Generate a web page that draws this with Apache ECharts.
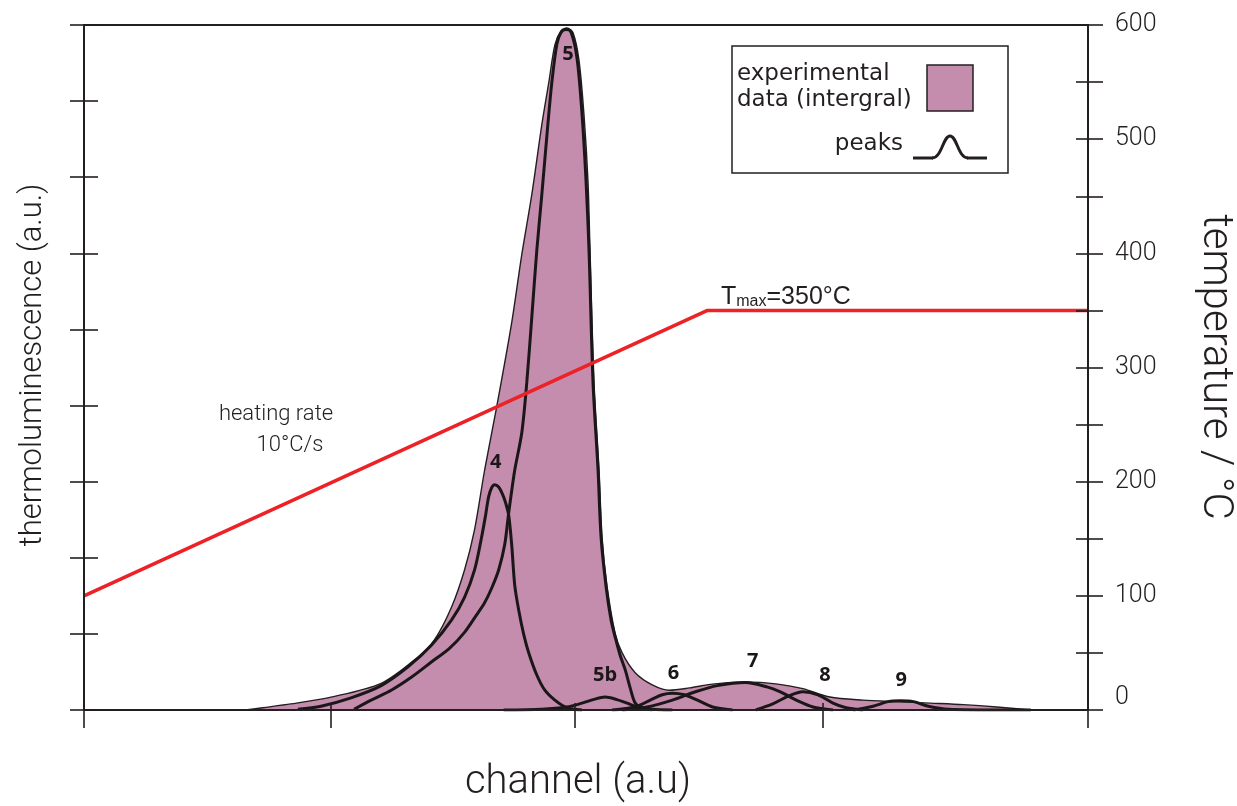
<!DOCTYPE html>
<html>
<head>
<meta charset="utf-8">
<script src="https://cdn.jsdelivr.net/npm/echarts@6/dist/echarts.min.js"></script>
<style>
  html, body { margin: 0; padding: 0; background: #ffffff; }
  #chart { width: 1237px; height: 806px; }
</style>
</head>
<body>
<div id="chart"></div>
<script>
// ---- data -------------------------------------------------------------
// channel axis (a.u.), tick positions along the glow curve
const channelTicks = [0, 246, 489, 736, 1000];
// temperature axis labels (°C)
const temperatureLabels = [0, 100, 200, 300, 400, 500, 600];

// integrated experimental glow curve [channel, intensity]
const experimental = [
  [161, 0], [178, 3], [206, 8], [246, 17], [296, 35], [333, 70], [349, 92],
  [366, 135], [379, 184], [389, 237], [399, 315], [411, 398], [426, 509],
  [436, 598], [446, 677], [456, 769], [463, 825], [469, 874], [475, 892],
  [481, 896], [487, 890], [493, 854], [498, 782], [502, 694], [504, 604],
  [508, 430], [513, 315], [516, 227], [521, 162], [529, 101], [536, 75],
  [549, 49], [566, 33], [583, 26], [603, 29], [626, 34], [659, 37],
  [691, 34], [716, 28], [743, 17], [776, 13], [809, 11], [843, 9],
  [876, 7], [909, 4], [943, 0]
];

// deconvoluted glow peaks [channel, intensity]
const peak4 = [
  [213, 1], [236, 5], [266, 16], [296, 32], [323, 57], [346, 85], [366, 118],
  [379, 148], [389, 184], [396, 227], [400, 256], [403, 280], [406, 292],
  [409, 296], [413, 293], [417, 283], [420, 272], [423, 256], [426, 217],
  [429, 164], [433, 131], [438, 99], [443, 75], [451, 46], [459, 26],
  [469, 13], [481, 3], [496, 0]
];
const peak5 = [
  [269, 1], [286, 13], [306, 26], [326, 43], [346, 63], [364, 81], [379, 102],
  [391, 125], [399, 141], [406, 160], [413, 184], [419, 217], [423, 259],
  [429, 315], [436, 364], [441, 430], [446, 516], [451, 604], [456, 677],
  [462, 769], [466, 825], [471, 875], [475, 890], [480, 894], [485, 891],
  [491, 857], [496, 784], [500, 696], [503, 604], [507, 430], [512, 315],
  [515, 227], [520, 162], [525, 118], [529, 96], [534, 72], [539, 53],
  [544, 29], [549, 9], [556, 3], [566, 0]
];
const peak5b = [
  [418, 0], [456, 1], [481, 4], [496, 9], [508, 14], [519, 17], [530, 14],
  [541, 9], [551, 4], [566, 1], [586, 0]
];
const peak6 = [
  [526, 0], [549, 4], [564, 13], [576, 20], [586, 22], [598, 20], [611, 13],
  [626, 4], [646, 0]
];
const peak7 = [
  [536, 0], [561, 4], [586, 13], [609, 24], [631, 32], [659, 36], [681, 30],
  [693, 24], [711, 12], [726, 4], [746, 0]
];
const peak8 = [
  [669, 0], [686, 8], [701, 18], [716, 24], [731, 20], [746, 9], [759, 3],
  [776, 0]
];
const peak9 = [
  [766, 0], [786, 5], [801, 11], [813, 12], [826, 11], [841, 5], [861, 1],
  [916, 0], [943, 0]
];
const peakNames = ['4', '5', '5b', '6', '7', '8', '9'];

// heating programme [channel, temperature °C]
const T_MAX = 350;
const heatingProfile = [[0, 100], [621, T_MAX], [1000, T_MAX]];
const heatingRateText = ['heating rate', '10°C/s'];

// ---- styling ----------------------------------------------------------
const INK = '#231f20';
const PINK = '#c48cad';
const RED = '#ec2227';
const LIGHT = 'Roboto, "Liberation Sans", sans-serif';
const LABEL_FONT = '"Open Sans", "DejaVu Sans", sans-serif';
const LEGEND_FONT = '"DejaVu Sans", sans-serif';
const SANS = '"Liberation Sans", Arial, sans-serif';

// label offsets (px) of the peak numbers relative to each apex
const peakLabelOffset = {
  '4': [1, -22], '5': [2, 25], '5b': [0, -22], '6': [1, -20],
  '7': [7, -21], '8': [22, -16], '9': [1, -21]
};

const peaks = [peak4, peak5, peak5b, peak6, peak7, peak8, peak9];

function apexOf(points) {
  let best = points[0];
  for (const p of points) if (p[1] > best[1]) best = p;
  return best;
}

const chart = echarts.init(document.getElementById('chart'), null, { renderer: 'canvas' });

const tickLine = { color: INK, width: 1.6 };

const option = {
  backgroundColor: '#ffffff',
  animation: false,
  grid: { left: 84, right: 149, top: 25, bottom: 96, show: true, borderColor: INK, borderWidth: 2 },
  xAxis: [
    {
      type: 'value', min: 0, max: 1000, position: 'bottom', z: 6,
      axisLine: { show: true, lineStyle: { color: INK, width: 2.2 } },
      axisTick: { show: true, inside: false, length: 18, customValues: channelTicks, lineStyle: tickLine },
      axisLabel: { show: false }, splitLine: { show: false }
    },
    {
      type: 'value', min: 0, max: 1000, position: 'bottom', z: 6,
      axisLine: { show: false },
      axisTick: { show: true, inside: true, length: 7, customValues: channelTicks, lineStyle: tickLine },
      axisLabel: { show: false }, splitLine: { show: false }
    }
  ],
  yAxis: [
    {
      type: 'value', min: 0, max: 900, interval: 100, position: 'left', z: 6,
      axisLine: { show: true, lineStyle: { color: INK, width: 2 } },
      axisTick: { show: true, inside: false, length: 14, lineStyle: tickLine },
      axisLabel: { show: false }, splitLine: { show: false }
    },
    {
      type: 'value', min: 0, max: 900, interval: 100, position: 'left', z: 6,
      axisLine: { show: false },
      axisTick: { show: true, inside: true, length: 14, lineStyle: tickLine },
      axisLabel: { show: false }, splitLine: { show: false }
    },
    {
      type: 'value', min: 0, max: 600, interval: 50, position: 'right', z: 6,
      axisLine: { show: true, lineStyle: { color: INK, width: 2 } },
      axisTick: { show: true, inside: false, length: 15, lineStyle: tickLine },
      axisLabel: {
        show: true, customValues: temperatureLabels, margin: 27,
        color: INK, fontFamily: LIGHT, fontWeight: 300, fontSize: 25,
        verticalAlignMinLabel: 'bottom', padding: [6, 0, 0, 0]
      },
      splitLine: { show: false }
    },
    {
      type: 'value', min: 0, max: 600, interval: 50, position: 'right', z: 6,
      axisLine: { show: false },
      axisTick: { show: true, inside: true, length: 12, lineStyle: tickLine },
      axisLabel: { show: false }, splitLine: { show: false }
    }
  ],
  series: [
    {
      name: 'experimental data (intergral)', type: 'line', data: experimental,
      xAxisIndex: 0, yAxisIndex: 0, smooth: 0.3,
      symbol: 'none', z: 2,
      lineStyle: { color: INK, width: 1.4 },
      areaStyle: { color: PINK, opacity: 1 }
    },
    ...peaks.map((p, i) => ({
      name: 'peak ' + peakNames[i], type: 'line', data: p,
      xAxisIndex: 0, yAxisIndex: 0, smooth: 0.3,
      symbol: 'none', z: 3,
      lineStyle: { color: '#1b1718', width: 3 }
    })),
    {
      name: 'heating', type: 'line', data: heatingProfile,
      xAxisIndex: 0, yAxisIndex: 2, symbol: 'none', z: 4,
      lineStyle: { color: RED, width: 3.5 }
    },
    {
      name: 'peak labels', type: 'scatter', xAxisIndex: 0, yAxisIndex: 0, z: 5,
      symbolSize: 1, itemStyle: { color: 'rgba(0,0,0,0)' },
      data: peaks.map((p, i) => {
        const a = apexOf(p);
        return {
          value: a, name: peakNames[i],
          label: {
            show: true, position: 'inside', offset: peakLabelOffset[peakNames[i]],
            formatter: peakNames[i], color: '#1b1718', fontFamily: LABEL_FONT,
            fontWeight: 'bold', fontSize: 20, opacity: 1
          }
        };
      })
    }
  ],
  graphic: [
    // axis titles
    {
      type: 'text', x: 33, y: 365, rotation: Math.PI / 2,
      style: { text: 'thermoluminescence (a.u.)', fill: INK, font: '300 31px ' + LIGHT, align: 'center', verticalAlign: 'middle' }
    },
    {
      type: 'text', x: 1214, y: 367, rotation: -Math.PI / 2,
      style: { text: 'temperature / °C', fill: INK, font: '300 42px ' + LIGHT, align: 'center', verticalAlign: 'middle' }
    },
    {
      type: 'text', x: 578, y: 783,
      style: { text: 'channel (a.u)', fill: INK, font: '300 40px ' + LIGHT, align: 'center', verticalAlign: 'middle' }
    },
    // heating programme annotations
    {
      type: 'text', x: 276, y: 414,
      style: { text: heatingRateText[0], fill: INK, font: '300 22px ' + LIGHT, align: 'center', verticalAlign: 'middle' }
    },
    {
      type: 'text', x: 290, y: 445,
      style: { text: heatingRateText[1], fill: INK, font: '300 22px ' + LIGHT, align: 'center', verticalAlign: 'middle' }
    },
    {
      type: 'text', x: 721, y: 296,
      style: {
        text: '{t|T}{s|max}{t|=' + T_MAX + '°C}',
        fill: INK, align: 'left', verticalAlign: 'middle',
        rich: {
          t: { fontSize: 25, fontFamily: SANS, fill: INK, verticalAlign: 'bottom', lineHeight: 28 },
          s: { fontSize: 16, fontFamily: SANS, fill: INK, verticalAlign: 'bottom', lineHeight: 22 }
        }
      }
    },
    // legend
    {
      type: 'rect', shape: { x: 732, y: 46, width: 276, height: 127 },
      style: { fill: '#ffffff', stroke: INK, lineWidth: 1.5 }, z: 10
    },
    {
      type: 'rect', shape: { x: 927, y: 65, width: 46, height: 46 },
      style: { fill: PINK, stroke: INK, lineWidth: 1.5 }, z: 11
    },
    {
      type: 'text', x: 737, y: 74, z: 11,
      style: { text: 'experimental', fill: INK, font: '23px ' + LEGEND_FONT, align: 'left', verticalAlign: 'middle' }
    },
    {
      type: 'text', x: 737, y: 100, z: 11,
      style: { text: 'data (intergral)', fill: INK, font: '23px ' + LEGEND_FONT, align: 'left', verticalAlign: 'middle' }
    },
    {
      type: 'text', x: 903, y: 144, z: 11,
      style: { text: 'peaks', fill: INK, font: '23px ' + LEGEND_FONT, align: 'right', verticalAlign: 'middle' }
    },
    {
      type: 'line', z: 11, shape: { x1: 913, y1: 158, x2: 933, y2: 158 },
      style: { stroke: INK, lineWidth: 3 }
    },
    {
      type: 'bezierCurve', z: 11,
      shape: { x1: 932, y1: 158, cpx1: 942, cpy1: 158, cpx2: 943, cpy2: 136, x2: 950, y2: 136 },
      style: { stroke: INK, lineWidth: 3, fill: null }
    },
    {
      type: 'bezierCurve', z: 11,
      shape: { x1: 950, y1: 136, cpx1: 957, cpy1: 136, cpx2: 958, cpy2: 158, x2: 968, y2: 158 },
      style: { stroke: INK, lineWidth: 3, fill: null }
    },
    {
      type: 'line', z: 11, shape: { x1: 967, y1: 158, x2: 987, y2: 158 },
      style: { stroke: INK, lineWidth: 3 }
    }
  ]
};

chart.setOption(option);
</script>
</body>
</html>
